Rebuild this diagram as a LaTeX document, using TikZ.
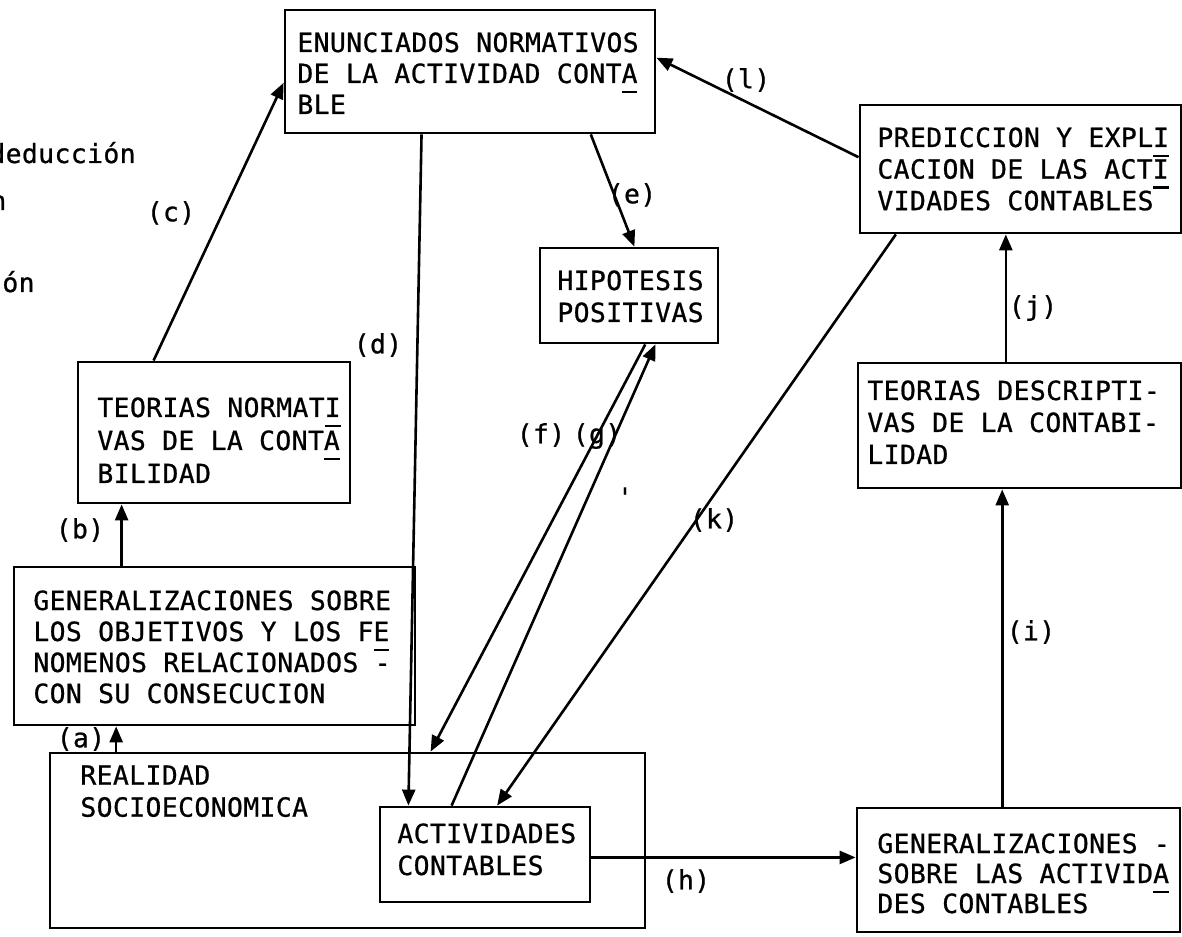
\documentclass[tikz,border=0pt]{standalone}
\usepackage{fontspec}
\newfontfamily\tw{DejaVu Sans Mono}[LetterSpace=1.5,FakeBold=0.8]
\usetikzlibrary{arrows.meta,calc,fit}
\newcommand\um[1]{\makebox[0pt][l]{\rule[-5pt]{0.6em}{1.1pt}}#1}
\begin{document}
\begin{tikzpicture}[x=0.5pt,y=-0.5pt,
  box/.style={draw,line width=1.4pt,inner sep=0pt},
  txt/.style={anchor=north west,inner sep=0pt,align=left,font=\tw\fontsize{13.2}{15.5}\selectfont},
  lab/.style={inner sep=0pt,font=\tw\fontsize{13.2}{15.5}\selectfont},
  arr/.style={line width=1.3pt,-{Triangle[length=8pt,width=6.5pt]}},
  ln/.style={line width=1.3pt}]
\useasboundingbox (0,0) rectangle (1182,936);
% boxes
\node[box,fit={(285,10)(655,133)}] (enun) {};
\node[box,fit={(860,105)(1181,233)}] (pred) {};
\node[box,fit={(540,248)(718,343)}] (hip) {};
\node[box,fit={(78,362)(350,503)}] (tnorm) {};
\node[box,fit={(858,363)(1181,488)}] (tdesc) {};
\node[box,fit={(14,567)(415,725)}] (gen) {};
\node[box,fit={(50,753)(645,928)}] (real) {};
\node[box,fit={(380,807)(590,902)}] (act) {};
\node[box,fit={(857,808)(1180,932)}] (genr) {};
% texts
\node[txt] (tenun) at (297,32) {ENUNCIADOS NORMATIVOS\\DE LA ACTIVIDAD CONT\um{A}\\BLE};
\node[txt,font=\tw\fontsize{13.2}{14.5}\selectfont] (tpred) at (877,127) {PREDICCION Y EXPL\um{I}\\CACION DE LAS ACT\um{I}\\VIDADES CONTABLES};
\node[txt,font=\tw\fontsize{13.2}{16}\selectfont] (thip) at (557,270) {HIPOTESIS\\POSITIVAS};
\node[txt,font=\tw\fontsize{13.2}{16.5}\selectfont] (ttnorm) at (97,397) {TEORIAS NORMAT\um{I}\\VAS DE LA CONT\um{A}\\BILIDAD};
\node[txt,font=\tw\fontsize{13.2}{16}\selectfont] (ttdesc) at (867,380) {TEORIAS DESCRIPTI-\\VAS DE LA CONTABI-\\LIDAD};
\node[txt] (tgen) at (33,590) {GENERALIZACIONES SOBRE\\LOS OBJETIVOS Y LOS F\um{E}\\NOMENOS RELACIONADOS -\\CON SU CONSECUCION};
\node[txt,font=\tw\fontsize{13.2}{16}\selectfont] (treal) at (80,765) {REALIDAD\\SOCIOECONOMICA};
\node[txt,font=\tw\fontsize{13.2}{16}\selectfont] (tact) at (397,823) {ACTIVIDADES\\CONTABLES};
\node[txt,font=\tw\fontsize{13.2}{15}\selectfont] (tgenr) at (877,833) {GENERALIZACIONES -\\SOBRE LAS ACTIVID\um{A}\\DES CONTABLES};
% cropped legend fragments (cut by the left edge, as in the scan)
\node[lab,anchor=base west] (frag1) at (-11,163) {deducción};
\node[lab,anchor=base west] (frag2) at (-10,210) {n};
\node[lab,anchor=base west] (frag3) at (2,292) {ón};
% connectors
\coordinate (a1) at ($(real.north west)!0.113!(real.north east)$);
\draw[arr] (a1) -- (a1 |- gen.south);
\coordinate (b1) at ($(gen.north west)!0.27!(gen.north east)$);
\draw[arr] (b1) -- (b1 |- tnorm.south);
\draw[arr] ($(tnorm.north west)!0.28!(tnorm.north east)$) -- ($(enun.north west)!0.59!(enun.south west)$);
\draw[arr] ($(enun.south west)!0.37!(enun.south east)$) -- ($(act.north west)!0.14!(act.north east)$);
\draw[arr] ($(enun.south west)!0.824!(enun.south east)$) -- ($(hip.north west)!0.53!(hip.north east)$);
\draw[arr] ($(hip.south west)!0.59!(hip.south east)$) -- ($(real.north west)!0.639!(real.north east)$);
\draw[arr] ($(act.north west)!0.343!(act.north east)$) -- ($(hip.south west)!0.646!(hip.south east)$);
\draw[arr] ($(pred.south west)!0.115!(pred.south east)$) -- ($(act.north west)!0.557!(act.north east)$);
\draw[arr] ($(pred.north west)!0.41!(pred.south west)$) -- ($(enun.north east)!0.39!(enun.south east)$);
\coordinate (j1) at ($(tdesc.north west)!0.458!(tdesc.north east)$);
\draw[arr] (j1) -- (j1 |- pred.south);
\coordinate (i1) at ($(genr.north west)!0.45!(genr.north east)$);
\draw[arr] (i1) -- (i1 |- tdesc.south);
\coordinate (h1) at ($(act.north east)!0.53!(act.south east)$);
\draw[arr] (h1) -- (h1 -| genr.west);
% labels
\node[lab] (la) at (81,739) {(a)};
\node[lab] (lb) at (80,530) {(b)};
\node[lab] (lc) at (171,213) {(c)};
\node[lab] (ld) at (378,345) {(d)};
\node[lab] (le) at (632,195) {(e)};
\node[lab] (lf) at (541,435) {(f)};
\node[lab] (lg) at (597,436) {(g)};
\node[lab] (lh) at (686,881) {(h)};
\node[lab] (li) at (1031,632) {(i)};
\node[lab] (lj) at (1033,308) {(j)};
\node[lab] (lk) at (714,520) {(k)};
\node[lab] (ll) at (746,80) {(l)};
\node[lab] (tick) at (625,497) {'};
\end{tikzpicture}
\end{document}
